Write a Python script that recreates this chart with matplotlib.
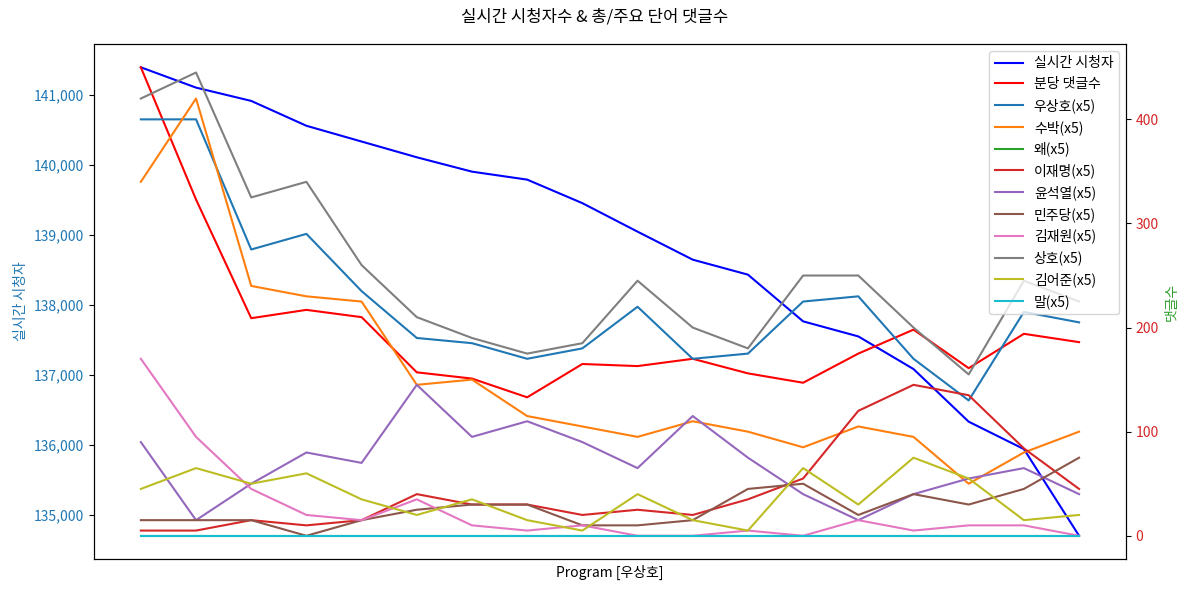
import numpy as np
import matplotlib
matplotlib.use("Agg")
import matplotlib.pyplot as plt
from matplotlib.ticker import FuncFormatter

plt.rcParams['font.family'] = ['Noto Sans CJK KR', 'DejaVu Sans']
plt.rcParams['axes.unicode_minus'] = False

# 18 time points (x positions only, no tick labels in the original)
x = np.arange(18)

viewers = [141390, 141100, 140910, 140555, 140330, 140105, 139900, 139786, 139450,
           139043, 138643, 138429, 137762, 137547, 137081, 136329, 135938, 134700]
comments = [450, 323, 209, 217, 210, 157, 151, 133, 165, 163, 170, 156, 147, 175, 198, 161, 194, 186]

words = ['우상호', '수박', '왜', '이재명', '윤석열', '민주당', '김재원', '상호', '김어준', '말']
word_counts = {
    '우상호': [400, 400, 275, 290, 235, 190, 185, 170, 180, 220, 170, 175, 225, 230, 170, 130, 215, 205],
    '수박':   [340, 420, 240, 230, 225, 145, 150, 115, 105, 95, 110, 100, 85, 105, 95, 50, 80, 100],
    '왜':     [0] * 18,
    '이재명': [5, 5, 15, 10, 15, 40, 30, 30, 20, 25, 20, 35, 55, 120, 145, 135, 84, 45],
    '윤석열': [90, 15, 50, 80, 70, 145, 95, 110, 90, 65, 115, 75, 40, 15, 40, 55, 65, 40],
    '민주당': [15, 15, 15, 0, 15, 25, 30, 30, 10, 10, 15, 45, 50, 20, 40, 30, 45, 75],
    '김재원': [170, 95, 45, 20, 15, 35, 10, 5, 10, 0, 0, 5, 0, 15, 5, 10, 10, 0],
    '상호':   [420, 445, 325, 340, 260, 210, 190, 175, 185, 245, 200, 180, 250, 250, 200, 155, 245, 225],
    '김어준': [45, 65, 50, 60, 35, 20, 35, 15, 5, 40, 15, 5, 65, 30, 75, 55, 15, 20],
    '말':     [0] * 18,
}

fig, ax1 = plt.subplots(figsize=(11.89, 5.93), dpi=100)

l1, = ax1.plot(x, viewers, color='blue', label='실시간 시청자')
ax1.set_ylabel('실시간 시청자', color='tab:blue')
ax1.tick_params(axis='y', labelcolor='tab:blue')
ax1.yaxis.set_major_formatter(FuncFormatter(lambda v, p: f'{int(v):,}'))
ax1.set_xticks([])
ax1.set_xlabel('Program [우상호]')

ax2 = ax1.twinx()
l2, = ax2.plot(x, comments, color='red', label='분당 댓글수')
lines = [l1, l2]
for i, w in enumerate(words):
    ln, = ax2.plot(x, word_counts[w], color=f'C{i}', label=f'{w}(x5)')
    lines.append(ln)
ax2.set_ylabel('댓글수', color='tab:green')
ax2.tick_params(axis='y', labelcolor='tab:red')

ax2.legend(lines, [l.get_label() for l in lines], loc='upper right')

fig.suptitle('실시간 시청자수 & 총/주요 단어 댓글수', y=0.985)
fig.subplots_adjust(left=0.079, right=0.947, top=0.926, bottom=0.057)
fig.savefig('out.png')
